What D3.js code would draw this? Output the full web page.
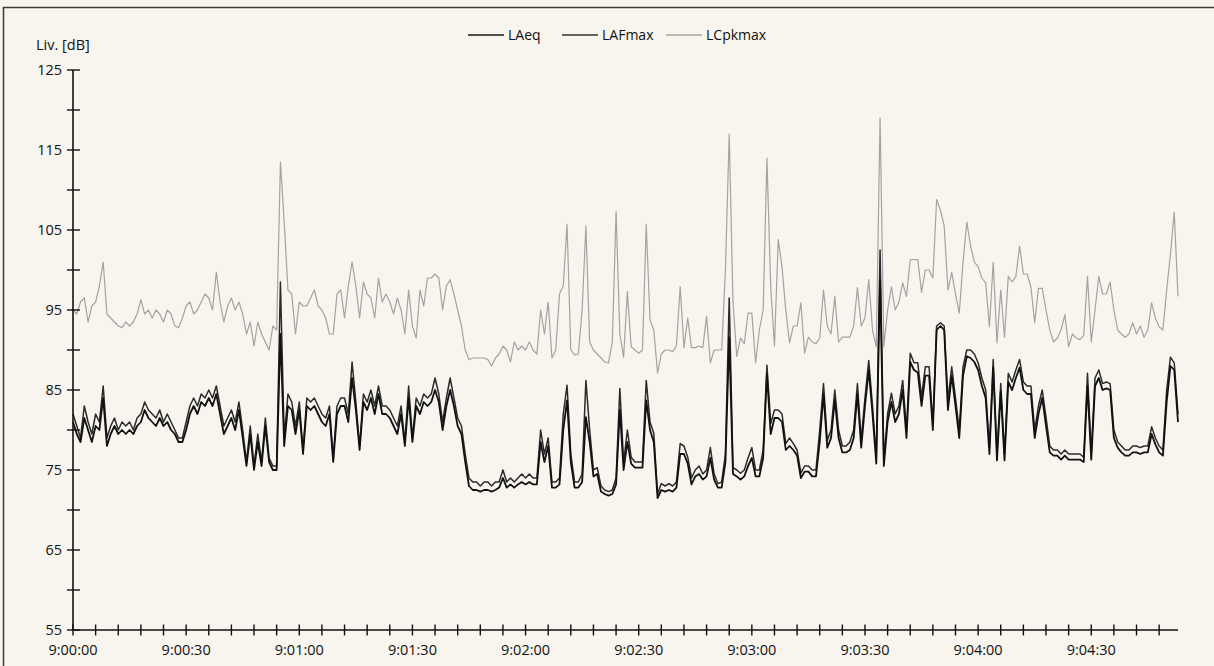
<!DOCTYPE html>
<html>
<head>
<meta charset="utf-8">
<script src="https://cdn.jsdelivr.net/npm/d3@7"></script>
<style>
body { margin: 0; background: #f7f5ee; }
text { font-family: "Open Sans", "DejaVu Sans", sans-serif; fill: #111; }
</style>
</head>
<body>
<script>
// one sample per second from 9:00:00
var laeq = [
	81, 79.5, 78.5, 81.5, 80, 78.5, 80.5, 80, 84, 78,
	79.5, 80.5, 79.5, 80, 79.5, 80, 79.5, 80.5, 81, 82.5,
	81.5, 81, 80.5, 81.5, 80.5, 81, 80, 79.5, 78.5, 78.5,
	80, 82, 83, 82, 83.5, 83, 84, 83, 84.5, 82,
	79.5, 80.5, 81.5, 80, 82.5, 79, 75.5, 79.5, 75, 78.5,
	75.5, 80.5, 76, 75, 75, 92, 78, 83, 82.5, 79.5,
	82.5, 77, 83, 82.5, 83, 82, 81, 80.5, 82, 76,
	82, 83, 83, 81, 86.5, 82.5, 77.5, 83.5, 82.5, 84,
	82, 84.5, 82, 82, 81.5, 80.5, 79.5, 82, 78, 84,
	78.5, 83, 82, 83.5, 83, 83.5, 85, 83.5, 80, 83,
	85, 83, 80.5, 79.5, 76, 73, 72.5, 72.5, 72.3, 72.5,
	72.5, 72.3, 72.5, 72.8, 74, 72.8, 73.2, 72.8, 73.2, 73.5,
	73.2, 73.5, 73.2, 73.2, 78.5, 76, 78, 72.8, 72.8, 73.2,
	80, 83.7, 76, 72.8, 72.8, 73.5, 81.6, 78.5, 74.2, 74.5,
	72.3, 72, 71.8, 72, 73.2, 82.5, 75, 78.5, 75.8, 75.3,
	75.3, 75.3, 83.7, 80, 78.5, 71.5, 72.5, 72.3, 72.5, 72.3,
	72.8, 77, 77, 75.8, 73.2, 74.2, 74.5, 73.8, 74.2, 76.5,
	73.8, 72.8, 72.8, 76, 91.6, 74.5, 74.2, 73.8, 74.2, 75.5,
	76.5, 74.2, 74.2, 76.5, 87, 79.5, 81.5, 81.5, 81, 77.5,
	78, 77.5, 76.8, 74, 74.8, 74.8, 74.2, 74.2, 78.5, 84.5,
	77.8, 79, 83.8, 79, 77.2, 77.2, 77.5, 79, 84.5, 77.8,
	83, 87.5, 82, 75.8, 98.8, 75.5, 81, 83.5, 81, 82,
	85, 79, 88.5, 87.5, 87.2, 83, 86.8, 86.8, 80, 92.5,
	93, 92.5, 82.5, 86.8, 83, 79, 86.8, 89.2, 89, 88.5,
	87.5, 85.5, 84, 77, 87.8, 76.2, 84.8, 76.2, 86, 85,
	86.5, 87.8, 85, 84.5, 84.5, 79, 82, 84, 80.5, 77.2,
	76.8, 76.8, 76.3, 76.8, 76.3, 76.3, 76.3, 76.3, 76, 85.5,
	76.3, 85.5, 86.5, 85, 85.2, 85, 79, 77.8, 77.2, 76.8,
	76.8, 77.2, 77.2, 77, 77.2, 77.2, 79.5, 78.2, 77.2, 76.8,
	83.5, 88, 87.5, 81
];

var lafmax = [
	82, 80.5, 79, 83, 81, 79.5, 82, 81, 85.5, 79,
	80.5, 81.5, 80, 81, 80.5, 81, 80, 81.5, 82, 83.5,
	82.5, 82, 81.5, 82.5, 81, 82, 81, 80, 79, 79,
	81, 83, 84, 83, 84.5, 84, 85, 84, 85.5, 83,
	80.5, 81.5, 82.5, 81, 83.5, 80, 76, 80.5, 75.5, 79.5,
	76, 81.5, 76.5, 75.5, 75.5, 98.5, 79, 84.5, 83.5, 80.5,
	83.5, 77.5, 84, 83.5, 84, 83, 82, 81.5, 83, 76.5,
	83, 84, 84, 82, 88.5, 83.5, 78, 84.5, 83.5, 85,
	83, 85.5, 83, 83, 82.5, 81.5, 80.5, 83, 78.5, 85.5,
	79, 84, 83, 84.5, 84, 84.5, 86.5, 84.5, 81, 84,
	86.5, 84, 81.5, 80.5, 77, 74, 73.5, 73.5, 73, 73.5,
	73.5, 73, 73.5, 73.5, 75, 73.5, 74, 73.5, 74, 74.5,
	74, 74.5, 74, 74, 80, 77, 79, 73.5, 73.5, 74,
	82, 85.6, 77, 73.5, 73.5, 74.5, 86.2, 80, 75, 75.3,
	73, 72.5, 72.3, 72.5, 74, 85.2, 76, 80, 76.6, 76,
	76, 76, 86.2, 81, 79.6, 72, 73.3, 73, 73.3, 73,
	73.5, 78.3, 78, 76.6, 74, 75, 75.5, 74.5, 75, 77.8,
	74.5, 73.3, 73.5, 77, 96.5, 75.3, 75, 74.6, 75, 76.5,
	77.8, 75, 75, 77.5, 88.1, 80.8, 82.5, 82.5, 82, 78.3,
	79, 78.3, 77.5, 74.6, 75.5, 75.5, 75, 75, 80, 85.8,
	78.7, 80, 85, 80, 78, 78, 78.5, 80, 85.8, 78.7,
	84, 88.7, 83, 76.6, 102.5, 76.2, 82, 84.6, 82, 83,
	86.2, 80, 89.6, 88.4, 88.4, 84.1, 87.9, 87.9, 80.8, 93,
	93.4, 93, 83.7, 87.9, 84, 80, 87.9, 90, 90, 89.5,
	88.4, 86.5, 85, 77.8, 88.8, 77, 85.8, 77, 87.1, 86,
	87.5, 88.8, 86, 85.5, 85.5, 80, 83, 85, 81.6, 78,
	77.5, 77.5, 77, 77.5, 77, 77, 77, 77, 76.6, 87.1,
	77, 86.5, 87.5, 85.8, 86, 85.8, 80, 78.5, 78, 77.5,
	77.5, 78, 78, 77.8, 78, 78, 80.4, 79, 78, 77.5,
	85, 89.1, 88.4, 82
];

var lcpkmax = [
	95, 94.5, 96, 96.5, 93.5, 95.5, 96, 98, 101, 94.5,
	94, 93.5, 93, 92.8, 93.5, 93, 93.5, 94.5, 96.3, 94.5,
	95, 94, 95, 94.5, 93.5, 95, 94.5, 93, 92.8, 94,
	95.5, 96, 94.5, 95, 96, 97, 96.5, 95, 99.7, 96,
	93.5, 95.5, 96.5, 95, 96, 94.5, 92, 93.5, 90.5, 93.5,
	92, 91, 90, 93, 92.5, 113.5, 106, 97.5, 97, 92,
	96, 95.5, 95.5, 96.5, 97.5, 95.5, 95, 94, 92, 92,
	97, 97.5, 94, 98, 101, 98, 94, 98.5, 97, 96.5,
	94, 99, 96, 97, 96, 94.5, 96.5, 95, 92, 97.5,
	93, 91.5, 97.5, 95.5, 99, 99, 99.5, 99, 95, 98,
	98.8, 97, 95, 93, 90, 88.8, 89, 89, 89, 89,
	88.8, 88, 89, 89.5, 90.5, 90, 88.5, 91, 90, 90.5,
	90, 91, 90, 89.5, 95, 92, 96, 89, 90, 97,
	98, 105.7, 90, 89.4, 89.5, 95, 105.5, 91, 90, 89.5,
	89, 88.5, 88.4, 91, 107.3, 92, 89.1, 97.3, 90.4, 90,
	89.6, 90, 105.7, 93.8, 92.5, 87.1, 89.5, 90, 90, 89.8,
	90.5, 97.9, 90.3, 94, 90.3, 90.3, 90.5, 90.3, 94.2, 88.4,
	90, 90, 90, 100, 117, 96, 89.2, 91.5, 90.8, 94.6,
	94.6, 88.4, 92.5, 95, 114, 98, 90.5, 103.8, 100.4, 95,
	90.9, 93, 93, 95.9, 89.6, 91.6, 91, 90.8, 91.5, 97.5,
	93, 92, 96.7, 91, 91.6, 91.6, 91.6, 93, 97.8, 93,
	94, 98.8, 92.5, 90.4, 119, 90.4, 95, 97.9, 95, 96,
	98.4, 96.7, 101.3, 101.3, 101.3, 97.2, 100, 100, 99, 108.8,
	107.5, 105.5, 97.5, 99.7, 97, 94.6, 101, 106, 103, 101,
	100.4, 99, 98.4, 92.9, 101, 90.9, 97.5, 91.6, 99.2, 98.5,
	99.2, 103, 99.5, 99.5, 97.9, 93.4, 97.7, 97.7, 95, 92.5,
	91, 91.5, 92.5, 94.4, 90.4, 92, 91.5, 91.3, 91.8, 99.2,
	91, 95, 99.2, 97, 97, 98.5, 95, 92.5, 92, 91.6,
	92, 93.4, 92, 93, 91.6, 92.5, 95.9, 94, 92.9, 92.5,
	97.5, 102, 107.2, 96.7
];

var seriesNames = ['LAeq', 'LAFmax', 'LCpkmax'];
var yTicks = [55, 65, 75, 85, 95, 105, 115, 125];

var series = [
	{name: 'LCpkmax', values: lcpkmax, color: '#a3a3a3', width: 1.2},
	{name: 'LAFmax', values: lafmax, color: '#2b2b2b', width: 1.5},
	{name: 'LAeq', values: laeq, color: '#111111', width: 1.8}
];
var legendColor = {LAeq: '#1a1a1a', LAFmax: '#333333', LCpkmax: '#a3a3a3'};

var W = 1214, H = 666;
var t0 = new Date(2000, 0, 1, 9, 0, 0);
var t1 = new Date(2000, 0, 1, 9, 4, 53);

var svg = d3.select('body')
	.append('svg')
	.attr('width', W)
	.attr('height', H);

// frame of the scanned page: only the top and left edges show
svg.append('path')
	.attr('d', 'M3.5,' + H + 'V7.5H' + W)
	.attr('fill', 'none')
	.attr('stroke', '#3a3a3a')
	.attr('stroke-width', 1.5);

var x = d3.scaleTime().domain([t0, t1]).range([73, 1178]);
var y = d3.scaleLinear().domain([55, 125]).range([630, 70]);

function timeAt(i) { return d3.timeSecond.offset(t0, i); }

var line = d3.line()
	.x(function(d, i) { return x(timeAt(i)); })
	.y(function(d) { return y(d); });

svg.selectAll('path.series')
	.data(series)
	.enter()
	.append('path')
	.attr('class', 'series')
	.attr('d', function(s) { return line(s.values); })
	.attr('fill', 'none')
	.attr('stroke', function(s) { return s.color; })
	.attr('stroke-width', function(s) { return s.width; })
	.attr('stroke-linejoin', 'round');

// y axis: line, crossing ticks every 5 dB, labels every 10
var yAxis = svg.append('g');
yAxis.append('line')
	.attr('x1', 73).attr('x2', 73)
	.attr('y1', y(125)).attr('y2', y(55))
	.attr('stroke', '#111').attr('stroke-width', 1.6);
yAxis.selectAll('line.tick')
	.data(d3.range(55, 126, 5))
	.enter()
	.append('line')
	.attr('class', 'tick')
	.attr('x1', 67).attr('x2', 80)
	.attr('y1', function(d) { return y(d); })
	.attr('y2', function(d) { return y(d); })
	.attr('stroke', '#111').attr('stroke-width', 1.4);
yAxis.selectAll('text')
	.data(yTicks)
	.enter()
	.append('text')
	.attr('x', 62)
	.attr('y', function(d) { return y(d) + 5; })
	.attr('text-anchor', 'end')
	.style('font-size', '14.5px')
	.text(function(d) { return d; });

svg.append('text')
	.attr('x', 36)
	.attr('y', 50)
	.style('font-size', '14.5px')
	.text('Liv. [dB]');

// x axis: ticks every 6 s, labels every 30 s
var xAxis = svg.append('g');
xAxis.append('line')
	.attr('x1', 73).attr('x2', 1178)
	.attr('y1', y(55)).attr('y2', y(55))
	.attr('stroke', '#111').attr('stroke-width', 1.6);
xAxis.selectAll('line.tick')
	.data(d3.timeSecond.every(6).range(t0, t1))
	.enter()
	.append('line')
	.attr('class', 'tick')
	.attr('x1', function(d) { return x(d); })
	.attr('x2', function(d) { return x(d); })
	.attr('y1', y(55) - 5.5).attr('y2', y(55) + 5.5)
	.attr('stroke', '#111').attr('stroke-width', 1.4);
xAxis.selectAll('text')
	.data(d3.timeSecond.every(30).range(t0, t1))
	.enter()
	.append('text')
	.attr('x', function(d) { return x(d); })
	.attr('y', 655)
	.attr('text-anchor', 'middle')
	.style('font-size', '14.5px')
	.text(d3.timeFormat('%-H:%M:%S'));

// legend on top
var legendX = [468, 562, 666];
var legend = svg.selectAll('g.legend')
	.data(seriesNames)
	.enter()
	.append('g')
	.attr('class', 'legend')
	.attr('transform', function(d, i) { return 'translate(' + legendX[i] + ',35)'; });
legend.append('line')
	.attr('x1', 0).attr('x2', 36)
	.attr('y1', 0).attr('y2', 0)
	.attr('stroke', function(d) { return legendColor[d]; })
	.attr('stroke-width', 1.3);
legend.append('text')
	.attr('x', 40)
	.attr('y', 5)
	.style('font-size', '14px')
	.text(function(d) { return d; });
</script>
</body>
</html>
